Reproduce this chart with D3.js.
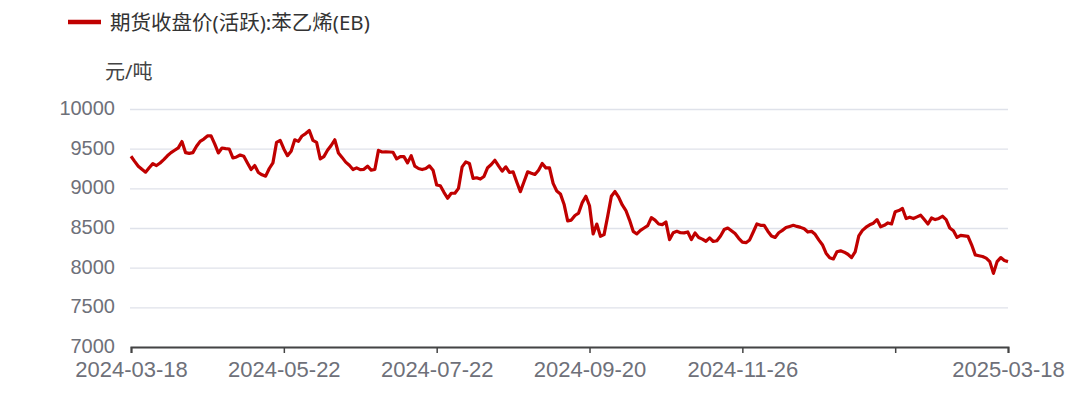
<!DOCTYPE html>
<html>
<head>
<meta charset="utf-8">
<script src="https://cdn.jsdelivr.net/npm/d3@7"></script>
<style>
  body { margin: 0; background: #fff; }
  svg { display: block; font-family: "Noto Sans", "Noto Sans CJK SC", sans-serif; }
</style>
</head>
<body>
<svg id="chart" width="1078" height="397"></svg>
<script>
var seriesName = "期货收盘价(活跃):苯乙烯(EB)";
var unitLabel = "元/吨";

// daily close, one value per trading day (2024-03-18 .. 2025-03-18)
var closes = [
  9404, 9340, 9279, 9240, 9204, 9260, 9312, 9287, 9320, 9362,
  9410, 9450, 9480, 9510, 9590, 9450, 9440, 9450, 9530, 9592,
  9621, 9660, 9662, 9560, 9446, 9508, 9500, 9496, 9383, 9396,
  9420, 9404, 9320, 9237, 9287, 9200, 9170, 9154, 9250, 9321,
  9579, 9604, 9496, 9412, 9467, 9612, 9592, 9660, 9690, 9729,
  9604, 9579, 9371, 9400, 9480, 9540, 9612, 9446, 9390, 9330,
  9290, 9237, 9258, 9235, 9240, 9279, 9229, 9237, 9479, 9458,
  9460, 9458, 9455, 9371, 9400, 9400, 9321, 9412, 9279, 9250,
  9237, 9250, 9283, 9229, 9042, 9033, 8950, 8875, 8938, 8938,
  9000, 9271, 9333, 9313, 9125, 9133, 9117, 9150, 9260, 9300,
  9354, 9283, 9217, 9271, 9200, 9208, 9080, 8958, 9083, 9208,
  9190, 9175, 9229, 9313, 9258, 9258, 9063, 8967, 8930, 8800,
  8590, 8600, 8658, 8688, 8820, 8900, 8780, 8425, 8550, 8396,
  8417, 8650, 8900, 8960, 8890, 8790, 8720, 8600, 8458, 8425,
  8470, 8500, 8530, 8630, 8600, 8550, 8542, 8575, 8354, 8440,
  8458, 8440, 8438, 8450, 8354, 8438, 8380, 8360, 8333, 8375,
  8330, 8340, 8400, 8480, 8500, 8466, 8430, 8370, 8322, 8315,
  8350, 8450, 8551, 8534, 8534, 8460, 8400, 8381, 8440, 8470,
  8505, 8520, 8534, 8520, 8508, 8490, 8449, 8458, 8420, 8350,
  8290, 8182, 8125, 8110, 8200, 8212, 8195, 8169, 8127, 8200,
  8400, 8470, 8510, 8540, 8560, 8606, 8515, 8534, 8564, 8551,
  8705, 8720, 8746, 8619, 8636, 8619, 8640, 8661, 8606, 8551,
  8627, 8606, 8620, 8648, 8606, 8500, 8466, 8381, 8407, 8400,
  8394, 8288, 8161, 8150, 8140, 8120, 8076, 7928, 8076, 8127,
  8090, 8076
];

// x-axis ticks: trading-day index and label ("" = tick without label)
var tickIndex = [0, 42, 84, 126, 168, 210, 241];
var tickLabels = ["2024-03-18", "2024-05-22", "2024-07-22", "2024-09-20", "2024-11-26", "", "2025-03-18"];

var yTicks = [7000, 7500, 8000, 8500, 9000, 9500, 10000];

var margin = { top: 109, right: 70, bottom: 50, left: 131 };
var width = 1078, height = 397;

var svg = d3.select("#chart");

var x = d3.scaleLinear()
  .domain([0, closes.length - 1])
  .range([margin.left, width - margin.right]);

var y = d3.scaleLinear()
  .domain([7000, 10000])
  .range([height - margin.bottom, margin.top]);

// gridlines + y labels
var yAxis = svg.append("g")
  .attr("transform", "translate(" + margin.left + ",0)")
  .call(d3.axisLeft(y)
    .tickValues(yTicks)
    .tickFormat(d3.format("d"))
    .tickSize(-(width - margin.right - margin.left))
    .tickPadding(16));

yAxis.select(".domain").remove();
yAxis.selectAll(".tick line")
  .attr("stroke", "#dfe2ea")
  .attr("stroke-width", 1.4)
  .attr("x1", -1);
yAxis.selectAll(".tick text")
  .attr("fill", "#6e7079")
  .attr("dy", "0.28em")
  .style("font-size", "20px");

// x axis
var xAxis = svg.append("g")
  .attr("transform", "translate(0," + y(7000) + ")")
  .call(d3.axisBottom(x)
    .tickValues(tickIndex)
    .tickSize(6)
    .tickPadding(8)
    .tickFormat(function(d, i) { return tickLabels[i]; }));

xAxis.select(".domain").attr("stroke", "#444").attr("stroke-width", 2);
xAxis.selectAll(".tick line").attr("stroke", "#444").attr("stroke-width", 1.5);
xAxis.selectAll(".tick text")
  .attr("fill", "#6e7079")
  .style("font-size", "22px");

// price line
var line = d3.line()
  .x(function(d, i) { return x(i); })
  .y(function(d) { return y(d); });

svg.append("path")
  .datum(closes)
  .attr("fill", "none")
  .attr("stroke", "#c00000")
  .attr("stroke-width", 3.2)
  .attr("stroke-linejoin", "round")
  .attr("d", line);

// legend
svg.append("line")
  .attr("x1", 68).attr("x2", 101)
  .attr("y1", 22).attr("y2", 22)
  .attr("stroke", "#c00000")
  .attr("stroke-width", 4.5);

svg.append("text")
  .attr("x", 110).attr("y", 30)
  .attr("fill", "#333")
  .style("font-size", "20.5px")
  .text(seriesName);

// unit
svg.append("text")
  .attr("x", 105).attr("y", 79)
  .attr("fill", "#444")
  .style("font-size", "20px")
  .text(unitLabel);
</script>
</body>
</html>
